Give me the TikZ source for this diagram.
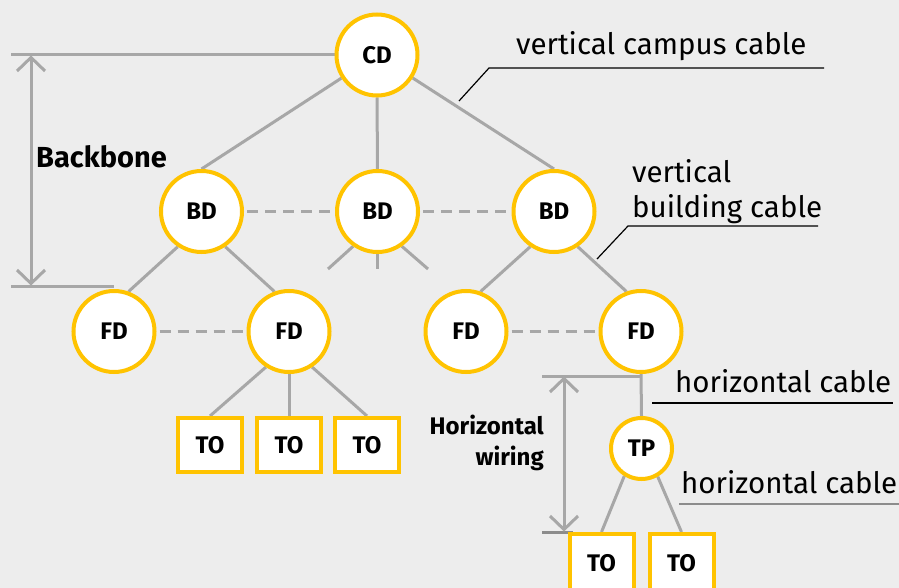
\documentclass[tikz,border=0pt]{standalone}
\usepackage{fontspec}
\setmainfont{Fira Sans}
\pgfdeclarelayer{bglayer}
\pgfdeclarelayer{lines}
\pgfsetlayers{bglayer,lines,main}
\definecolor{bgc}{HTML}{EDEDED}
\definecolor{ylw}{HTML}{FFC300}
\definecolor{lgray}{HTML}{A7A7A7}
\definecolor{dgray}{HTML}{8C8C8C}
\tikzset{
  dev/.style={circle, draw=ylw, line width=4pt, fill=white, minimum size=81pt, inner sep=0pt, font=\fontsize{24}{28}\selectfont\bfseries},
  smalldev/.style={dev, minimum size=61pt},
  outlet/.style={rectangle, draw=ylw, line width=4pt, fill=white, minimum width=64pt, minimum height=54pt, inner sep=0pt, font=\fontsize{24}{28}\selectfont\bfseries},
  cable/.style={draw=lgray, line width=3pt},
  link/.style={draw=lgray, line width=3pt, dash pattern=on 11pt off 7pt, dash phase=15pt},
  leader/.style={draw=black, line width=1.2pt},
  lbl/.style={font=\fontsize{29.5}{34}\selectfont, inner sep=0pt},
  blbl/.style={font=\fontsize{24}{30}\selectfont\bfseries, inner sep=0pt},
}
\begin{document}
\begin{tikzpicture}[x=1pt,y=-1pt]
\begin{pgfonlayer}{bglayer}
\fill[bgc] (0,0) rectangle (899,588);
\end{pgfonlayer}
\useasboundingbox (0,0) rectangle (899,588);

% nodes
\node[dev] (CD) at (377,55) {CD};
\node[dev] (BD1) at (201.5,211.5) {BD};
\node[dev] (BD2) at (377.5,211.5) {BD};
\node[dev] (BD3) at (554,211.5) {BD};
\node[dev] (FD1) at (114,331.5) {FD};
\node[dev] (FD2) at (289,331.5) {FD};
\node[dev] (FD3) at (466,331.5) {FD};
\node[dev] (FD4) at (641,331.5) {FD};
\node[outlet] (TO1) at (210,445) {TO};
\node[outlet] (TO2) at (289,445) {TO};
\node[outlet] (TO3) at (367,445) {TO};
\node[smalldev] (TP) at (641.5,448.5) {TP};
\node[outlet, minimum height=58pt] (TO4) at (601.5,563) {TO};
\node[outlet, minimum height=58pt] (TO5) at (681.5,563) {TO};

% free ends
\coordinate (s1) at (328,269);
\coordinate (s2) at (377.5,269);
\coordinate (s3) at (428,269);

\begin{pgfonlayer}{lines}
\draw[cable] (CD) -- (BD1.north);
\draw[cable] (CD) -- (BD2);
\draw[cable] (CD) -- (BD3.north);
\draw[cable] (BD1.236) -- (FD1.70);
\draw[cable] (BD1.304) -- (FD2.110);
\draw[cable] (BD3.236) -- (FD3.70);
\draw[cable] (BD3.304) -- (FD4.110);
\draw[cable] (BD2.235) -- (s1);
\draw[cable] (BD2.south) -- (s2);
\draw[cable] (BD2.305) -- (s3);
\draw[cable] (FD2.237) -- (TO1.north);
\draw[cable] (FD2.south) -- (TO2.north);
\draw[cable] (FD2.303) -- (TO3.north);
\draw[cable] (FD4.south) -- (TP.north);
\draw[cable] (TP.238) -- (TO4.north);
\draw[cable] (TP.300) -- (TO5.north);
\draw[link] (BD1.east) -- (BD2.west);
\draw[link] (BD2.east) -- (BD3.west);
\draw[link] (FD1.east) -- (FD2.west);
\draw[link] (FD3.east) -- (FD4.west);

% backbone dimension
\coordinate (bbt) at (11,55);
\coordinate (bbb) at (11,286);
\coordinate (bbe) at (114,286);
\draw[cable] (bbt) -- (CD.west);
\draw[cable] (bbb) -- (bbe);
\draw[cable] (31,57) -- (31,284);
\draw[cable] (17,71) -- (31,57.5) -- (45,71);
\draw[cable] (17,270) -- (31,283.5) -- (45,270);

% horizontal wiring dimension
\coordinate (hwt) at (542,376);
\coordinate (hwb) at (542,532);
\draw[cable] (hwt) -- (641,376);
\draw[cable, draw=dgray] (hwb) -- (573,532);
\draw[cable] (564,378) -- (564,530);
\draw[cable] (550,392) -- (564,378.5) -- (578,392);
\draw[cable] (550,516) -- (564,529.5) -- (578,516);

% leaders
\draw[leader] (459,101) -- (489,68) -- (824,68);
\draw[leader] (597,259) -- (628,226) -- (818,226);
\draw[leader] (652,403) -- (893,403);
\draw[draw=dgray, line width=2pt] (679,504) -- (899,504);
\end{pgfonlayer}

% labels
\node[lbl, anchor=base west] (l1) at (516,55) {vertical campus cable};
\node[lbl, anchor=base west] (l2) at (632,183) {vertical};
\node[lbl, anchor=base west] (l3) at (632,217) {building cable};
\node[lbl, anchor=base west] (l4) at (675,392) {horizontal cable};
\node[lbl, anchor=base west] (l5) at (681,493) {horizontal cable};
\node[blbl, font=\fontsize{29}{34}\selectfont\bfseries, anchor=base west] (bb) at (36,168) {Backbone};
\node[blbl, anchor=base east] (hw1) at (544,434) {Horizontal};
\node[blbl, anchor=base east] (hw2) at (544,465) {wiring};
\end{tikzpicture}
\end{document}
